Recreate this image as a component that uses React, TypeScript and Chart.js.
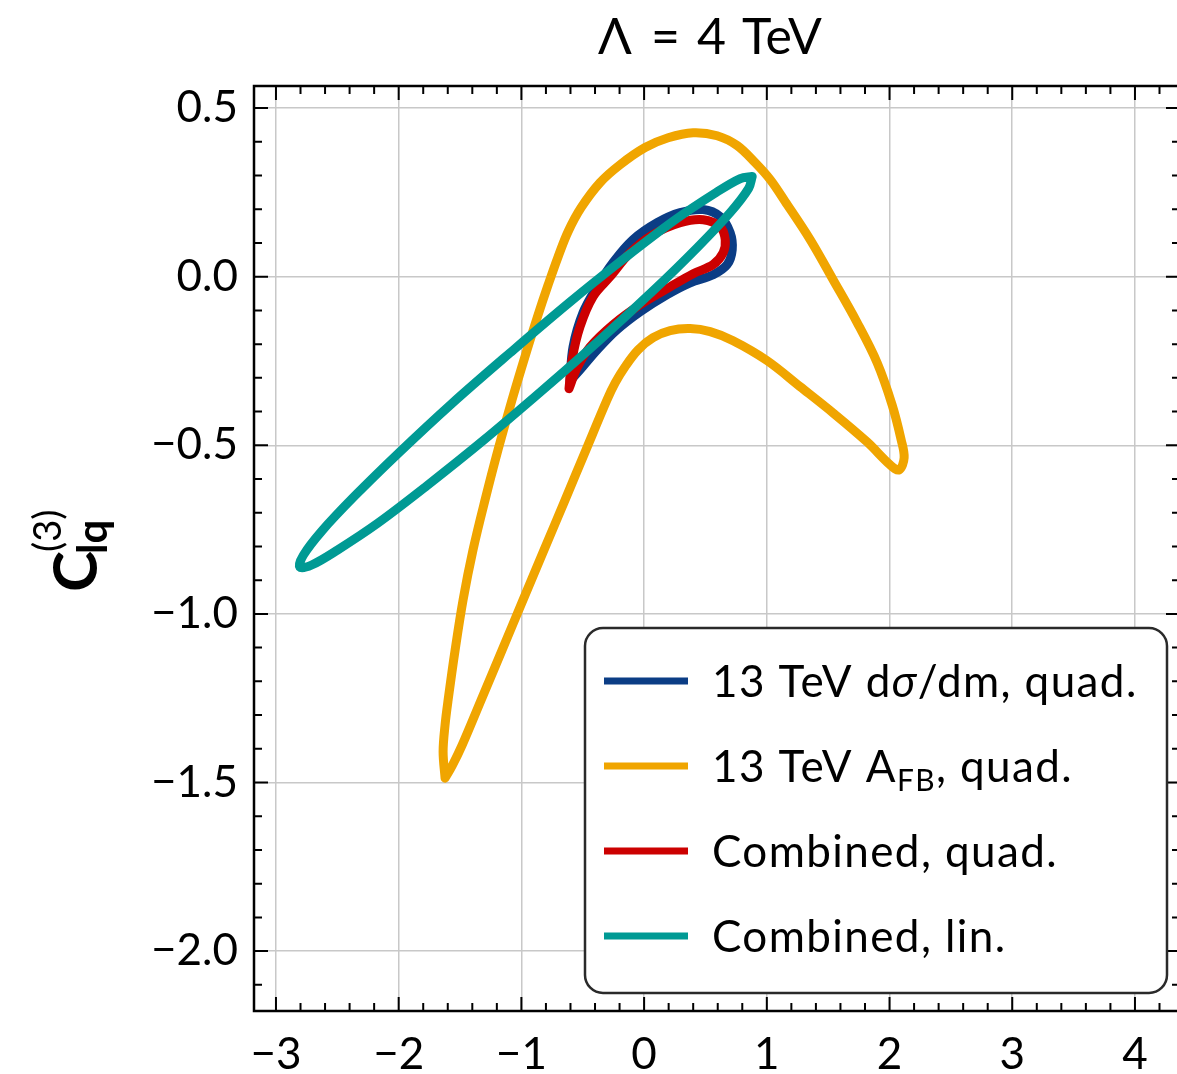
import React, { useEffect, useRef } from 'react';
import { Chart, registerables } from 'chart.js';

Chart.register(...registerables);

// ---------- axis ticks / ranges ----------
const xTickValues = [-3, -2, -1, 0, 1, 2, 3, 4];
const yTickValues = [0.5, 0.0, -0.5, -1.0, -1.5, -2.0];
const xRange = [-3.179, 4.367];
const yRange = [-2.1776, 0.5655];

// ---------- series ----------
const seriesNames = ['13 TeV dσ/dm, quad.', '13 TeV A_FB, quad.', 'Combined, quad.', 'Combined, lin.'];
const seriesColors = ['#0b3d85', '#f0a500', '#cc0000', '#009a94'];

// 13 TeV dσ/dm, quad.
const dsigmaX = [-0.604, -0.579, -0.498, -0.383, -0.253, -0.090, 0.106, 0.294, 0.481, 0.620, 0.701, 0.718, 0.677, 0.563, 0.375, 0.188, -0.033, -0.220, -0.383, -0.522, -0.604];
const dsigmaY = [-0.309, -0.208, -0.107, -0.030, 0.042, 0.110, 0.160, 0.190, 0.199, 0.178, 0.131, 0.080, 0.036, 0.006, -0.018, -0.053, -0.104, -0.157, -0.217, -0.276, -0.309];

// 13 TeV A_FB, quad.
const afbX = [-1.622, -1.638, -1.622, -1.597, -1.540, -1.475, -1.394, -1.296, -1.190, -1.076, -0.954, -0.864, -0.782, -0.701, -0.619, -0.513, -0.359, -0.196, 0.008, 0.196, 0.399, 0.595, 0.758, 0.905, 1.027, 1.149, 1.353, 1.540, 1.736, 1.899, 2.021, 2.095, 2.119, 2.078, 2.005, 1.817, 1.540, 1.271, 1.002, 0.725, 0.538, 0.375, 0.212, 0.073, -0.049, -0.155, -0.236, -0.302, -0.473, -0.644, -0.815, -0.986, -1.157, -1.328, -1.483, -1.565, -1.622];
const afbY = [-1.487, -1.409, -1.329, -1.255, -1.107, -0.958, -0.810, -0.662, -0.513, -0.365, -0.217, -0.113, -0.024, 0.059, 0.134, 0.205, 0.279, 0.332, 0.383, 0.412, 0.427, 0.418, 0.389, 0.338, 0.288, 0.223, 0.110, -0.009, -0.136, -0.255, -0.380, -0.484, -0.537, -0.573, -0.558, -0.490, -0.404, -0.326, -0.249, -0.190, -0.163, -0.154, -0.160, -0.181, -0.217, -0.267, -0.315, -0.365, -0.513, -0.662, -0.810, -0.958, -1.107, -1.255, -1.389, -1.451, -1.487];

// Combined, quad.
const combQuadX = [-0.612, -0.587, -0.522, -0.416, -0.277, -0.114, 0.073, 0.294, 0.481, 0.620, 0.661, 0.644, 0.563, 0.400, 0.212, -0.033, -0.253, -0.440, -0.546, -0.612];
const combQuadY = [-0.332, -0.246, -0.148, -0.059, 0.000, 0.071, 0.125, 0.160, 0.169, 0.148, 0.110, 0.071, 0.036, 0.009, -0.030, -0.083, -0.142, -0.208, -0.270, -0.332];

// Combined, lin.
const combLinX = [0.881, 0.852, 0.701, 0.435, 0.073, -0.356, -0.832, -1.311, -1.770, -2.170, -2.496, -2.709, -2.806, -2.777, -2.626, -2.360, -1.998, -1.569, -1.093, -0.614, -0.155, 0.246, 0.571, 0.784, 0.881];
const combLinY = [0.297, 0.262, 0.190, 0.087, -0.042, -0.186, -0.338, -0.486, -0.620, -0.731, -0.810, -0.855, -0.861, -0.826, -0.754, -0.651, -0.522, -0.377, -0.226, -0.078, 0.056, 0.167, 0.246, 0.291, 0.297];

// legend rich-text pieces (same text as seriesNames)
const legendRich = [
  [{ t: '13 TeV d' }, { t: 'σ', italic: true }, { t: '/dm, quad.' }],
  [{ t: '13 TeV A' }, { t: 'FB', sub: true }, { t: ', quad.' }],
  [{ t: 'Combined, quad.' }],
  [{ t: 'Combined, lin.' }],
];

const FONT = 'Lato';
const minus = (s: string) => s.replace('-', '\u2212');

function drawRich(ctx: any, segs: any[], x: number, y: number, size: number) {
  let cx = x;
  for (const s of segs) {
    const fs = s.sub ? size * 0.68 : size;
    ctx.font = `${s.italic ? 'italic ' : ''}${fs}px ${FONT}`;
    const dy = s.sub ? size * 0.2 : 0;
    ctx.fillText(s.t, cx, y + dy);
    cx += ctx.measureText(s.t).width;
  }
}

const decorPlugin = {
  id: 'decor',
  afterDatasetsDraw(chart: any) {
    const { ctx, chartArea: a, scales } = chart;
    const xs = scales.x;
    const ys = scales.y;
    ctx.save();
    ctx.strokeStyle = '#000';
    ctx.lineWidth = 2;
    for (let i = Math.ceil(xRange[0] * 5); i <= Math.floor(xRange[1] * 5); i++) {
      const p = xs.getPixelForValue(i / 5);
      const len = i % 5 === 0 ? 14 : 8;
      ctx.beginPath();
      ctx.moveTo(p, a.bottom); ctx.lineTo(p, a.bottom - len);
      ctx.moveTo(p, a.top); ctx.lineTo(p, a.top + len);
      ctx.stroke();
    }
    for (let i = Math.ceil(yRange[0] * 10); i <= Math.floor(yRange[1] * 10); i++) {
      const p = ys.getPixelForValue(i / 10);
      const len = i % 5 === 0 ? 14 : 8;
      ctx.beginPath();
      ctx.moveTo(a.left, p); ctx.lineTo(a.left + len, p);
      ctx.moveTo(a.right, p); ctx.lineTo(a.right - len, p);
      ctx.stroke();
    }
    ctx.lineWidth = 2.5;
    ctx.strokeRect(a.left, a.top, a.right - a.left, a.bottom - a.top);
    ctx.restore();
  },
  afterDraw(chart: any) {
    const { ctx } = chart;
    ctx.save();
    ctx.fillStyle = '#000';
    // title
    ctx.font = `50px ${FONT}`;
    ctx.textAlign = 'left';
    ctx.textBaseline = 'alphabetic';
    ctx.fillText('\u039B', 598, 54);
    ctx.fillText('=', 651, 54);
    ctx.fillText('4', 697, 54);
    ctx.fillText('TeV', 742, 54);

    // y label
    ctx.save();
    ctx.translate(97, 592);
    ctx.rotate(-Math.PI / 2);
    ctx.textAlign = 'left';
    ctx.font = `bold 62px ${FONT}`;
    ctx.fillText('C', 0, 0);
    const cw = ctx.measureText('C').width;
    ctx.font = `bold 42px ${FONT}`;
    ctx.fillText('lq', cw - 3, 10);
    ctx.font = `38px ${FONT}`;
    ctx.fillText('(3)', cw - 1, -36);
    ctx.restore();

    // legend
    const lx = 585, ly = 628, lw = 582, lh = 365;
    ctx.beginPath();
    ctx.roundRect(lx, ly, lw, lh, 18);
    ctx.fillStyle = '#fff';
    ctx.fill();
    ctx.lineWidth = 2.5;
    ctx.strokeStyle = '#2a2a2a';
    ctx.stroke();
    ctx.textAlign = 'left';
    ctx.textBaseline = 'alphabetic';
    legendRich.forEach((segs, i) => {
      const yy = 681 + i * 85;
      ctx.beginPath();
      ctx.strokeStyle = seriesColors[i];
      ctx.lineWidth = 7;
      ctx.moveTo(604, yy);
      ctx.lineTo(688, yy);
      ctx.stroke();
      ctx.fillStyle = '#000';
      ctx.letterSpacing = '1.4px';
      drawRich(ctx, segs, 712, yy + 16, 44);
      ctx.letterSpacing = '0px';
    });
    ctx.restore();
  },
};

const pts = (xs: number[], ys: number[]) => xs.map((x, i) => ({ x, y: ys[i] }));

export default function App() {
  const ref = useRef<HTMLCanvasElement | null>(null);
  useEffect(() => {
    if (!ref.current) return;
    const common = {
      showLine: true,
      pointRadius: 0,
      pointHoverRadius: 0,
      borderWidth: 9,
      tension: 0.35,
      fill: false,
      borderCapStyle: 'round',
      borderJoinStyle: 'round',
    };
    const chart = new Chart(ref.current, {
      type: 'scatter',
      data: {
        datasets: [
          { ...common, label: seriesNames[0], data: pts(dsigmaX, dsigmaY), borderColor: seriesColors[0], order: 3 },
          { ...common, label: seriesNames[1], data: pts(afbX, afbY), borderColor: seriesColors[1], order: 4 },
          { ...common, label: seriesNames[2], data: pts(combQuadX, combQuadY), borderColor: seriesColors[2], order: 2 },
          { ...common, label: seriesNames[3], data: pts(combLinX, combLinY), borderColor: seriesColors[3], order: 1 },
        ] as any,
      },
      options: {
        responsive: false,
        devicePixelRatio: 1,
        animation: false,
        layout: { padding: { top: 86, left: 0, right: 10, bottom: 0 } },
        plugins: { legend: { display: false }, tooltip: { enabled: false }, title: { display: false } },
        scales: {
          x: {
            type: 'linear',
            min: xRange[0],
            max: xRange[1],
            afterFit: (s: any) => { s.height = 63; },
            grid: { color: '#c8c8c8', lineWidth: 1.5, drawTicks: false },
            border: { display: false },
            ticks: {
              stepSize: 1,
              includeBounds: false,
              autoSkip: false,
              maxRotation: 0,
              padding: 17,
              color: '#000',
              font: { family: FONT, size: 44 },
              callback: (v: any) => (xTickValues.includes(Number(v)) ? minus(String(v)) : ''),
            },
          },
          y: {
            type: 'linear',
            min: yRange[0],
            max: yRange[1],
            afterFit: (s: any) => { s.width = 254; },
            grid: { color: '#c8c8c8', lineWidth: 1.5, drawTicks: false },
            border: { display: false },
            ticks: {
              stepSize: 0.5,
              includeBounds: false,
              autoSkip: false,
              padding: 16,
              color: '#000',
              font: { family: FONT, size: 44 },
              callback: (v: any) => {
                const n = Math.round(Number(v) * 10) / 10;
                return yTickValues.includes(n) ? minus(n.toFixed(1)) : '';
              },
            },
          },
        },
      } as any,
      plugins: [decorPlugin],
    });
    return () => chart.destroy();
  }, []);
  return (
    <div style={{ position: 'fixed', left: 0, top: 0, width: 1177, height: 1074, overflow: 'hidden', background: '#fff' }}>
      <canvas ref={ref} width={1190} height={1074} style={{ display: 'block', width: 1190, height: 1074 }} />
    </div>
  );
}
